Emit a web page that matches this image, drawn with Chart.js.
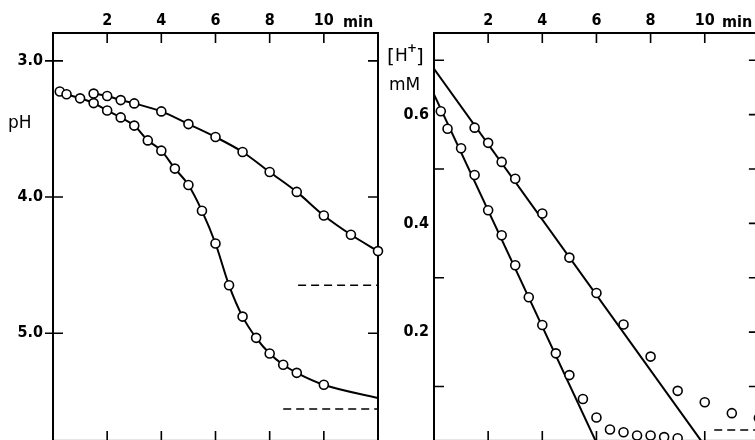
<!DOCTYPE html>
<html lang="en">
<head>
<meta charset="UTF-8">
<title>pH and [H+] against time</title>
<script src="https://cdn.jsdelivr.net/npm/chart.js"></script>
<style>
    body {
        margin: 0;
        width: 755px;
        height: 440px;
        overflow: hidden;
        background: #ffffff;
        position: relative;
    }
    .panel {
        position: absolute;
        top: 0;
    }
    #leftBox { left: 0; }
    #rightBox { left: 380px; }
</style>
</head>
<body>
<div class="panel" id="leftBox"><canvas id="phChart" width="400" height="447"></canvas></div>
<div class="panel" id="rightBox"><canvas id="hChart" width="385" height="447"></canvas></div>

<script>
    // time axis (min), shared by both panels
    const timeTicks = [2, 4, 6, 8, 10];

    // left panel: pH
    const phTicks = [3, 4, 5];
    const phFastT = [0.25, 0.5, 1, 1.5, 2, 2.5, 3, 3.5, 4, 4.5, 5, 5.5, 6, 6.5, 7, 7.5, 8, 8.5, 9, 10];
    const phFastV = [3.225, 3.245, 3.275, 3.31, 3.364, 3.415, 3.475, 3.584, 3.659, 3.791, 3.911, 4.101, 4.341, 4.648, 4.878, 5.034, 5.149, 5.232, 5.291, 5.379];
    const phFastTail = [12, 5.476];          // curve goes on past the last circle
    const phSlowT = [1.5, 2, 2.5, 3, 4, 5, 6, 7, 8, 9, 10, 11, 12];
    const phSlowV = [3.24, 3.258, 3.288, 3.312, 3.371, 3.464, 3.559, 3.669, 3.816, 3.962, 4.136, 4.277, 4.397];
    const phLimitSlow = [[9.05, 4.648], [12, 4.648]];
    const phLimitFast = [[8.5, 5.557], [12, 5.557]];

    // right panel: [H+] in mM
    const hLabelTicks = [0.2, 0.4, 0.6];
    const hMarkTicks = [0.1, 0.2, 0.3, 0.4, 0.5, 0.6, 0.7];
    const hFastT = [0.25, 0.5, 1, 1.5, 2, 2.5, 3, 3.5, 4, 4.5, 5, 5.5, 6, 6.5, 7, 7.5, 8, 8.5, 9];
    const hFastV = [0.606, 0.574, 0.538, 0.489, 0.424, 0.378, 0.323, 0.264, 0.213, 0.161, 0.121, 0.077, 0.043, 0.021, 0.016, 0.010, 0.010, 0.007, 0.005];
    const hSlowT = [1.5, 2, 2.5, 3, 4, 5, 6, 7, 8, 9, 10, 11, 12];
    const hSlowV = [0.576, 0.548, 0.513, 0.482, 0.418, 0.337, 0.272, 0.214, 0.155, 0.092, 0.071, 0.051, 0.042];
    const hFastFit = [[0, 0.637], [5.97, 0]];
    const hSlowFit = [[0, 0.684], [9.87, 0]];
    const hBaseline = [[10.35, 0.02], [12, 0.02]];

    const FAM = "'DejaVu Sans Condensed', 'DejaVu Sans', sans-serif";
    const tickFont = { family: FAM, size: 16, weight: 'bold' };

    const toPts = (xs, ys) => xs.map((x, i) => ({ x: x, y: ys[i] }));
    const pairPts = arr => arr.map(p => ({ x: p[0], y: p[1] }));

    // frame round the plot area plus the short inward tick marks
    const framePlugin = {
        id: 'frame',
        beforeDatasetsDraw(chart, args, opts) {
            const { ctx, chartArea: a, scales } = chart;
            ctx.save();
            ctx.strokeStyle = '#000';
            ctx.lineWidth = 2;
            ctx.strokeRect(a.left, a.top, a.right - a.left, a.bottom - a.top);
            ctx.lineWidth = 1.6;
            ctx.beginPath();
            opts.xMarks.forEach(v => {
                const px = scales.x.getPixelForValue(v);
                ctx.moveTo(px, a.top); ctx.lineTo(px, a.top + 10);
                ctx.moveTo(px, a.bottom); ctx.lineTo(px, a.bottom - 10);
            });
            opts.leftMarks.forEach(v => {
                const py = scales.y.getPixelForValue(v);
                ctx.moveTo(a.left - opts.outLen, py); ctx.lineTo(a.left + 10, py);
            });
            opts.rightMarks.forEach(v => {
                const py = scales.y.getPixelForValue(v);
                ctx.moveTo(a.right - 10, py); ctx.lineTo(a.right, py);
            });
            ctx.stroke();
            ctx.restore();
        }
    };

    const textPlugin = {
        id: 'extraText',
        afterDraw(chart, args, opts) {
            const ctx = chart.ctx;
            ctx.save();
            ctx.fillStyle = '#000';
            ctx.textBaseline = 'alphabetic';
            ctx.textAlign = 'left';
            opts.items.forEach(it => {
                ctx.font = it.font;
                ctx.fillText(it.text, it.x, it.y);
            });
            ctx.restore();
        }
    };

    const lineSet = (pts, extra) => Object.assign({
        data: pts, showLine: true, pointRadius: 0, borderColor: '#000',
        borderWidth: 2, order: 2
    }, extra);

    const circleSet = pts => ({
        data: pts, showLine: false, pointRadius: 4.5, pointBorderWidth: 1.6,
        pointBorderColor: '#000', pointBackgroundColor: '#fff', order: 0, clip: false
    });

    function baseOptions(cfg) {
        return {
            responsive: false,
            animation: false,
            layout: { padding: cfg.padding },
            plugins: {
                legend: { display: false },
                tooltip: { enabled: false },
                frame: cfg.frame,
                extraText: { items: cfg.texts }
            },
            scales: {
                x: {
                    type: 'linear', position: 'top', min: 0, max: 12,
                    afterBuildTicks: s => { s.ticks = timeTicks.map(v => ({ value: v })); },
                    afterFit: s => { s.height = 33; s.paddingLeft = 0; s.paddingRight = 0; },
                    grid: { display: false, drawTicks: false },
                    border: { display: false },
                    ticks: { padding: 3, font: tickFont, color: '#000', callback: v => String(v) }
                },
                y: {
                    type: 'linear', position: 'left',
                    min: cfg.yMin, max: cfg.yMax, reverse: cfg.reverse,
                    afterBuildTicks: s => { s.ticks = cfg.yLabels.map(v => ({ value: v })); },
                    afterFit: s => { s.width = cfg.yWidth; s.paddingTop = 0; s.paddingBottom = 0; },
                    grid: { display: false, drawTicks: false },
                    border: { display: false },
                    ticks: { padding: cfg.yPad, font: tickFont, color: '#000', callback: v => v.toFixed(1) }
                }
            }
        };
    }

    new Chart(document.getElementById('phChart'), {
        type: 'scatter',
        data: {
            datasets: [
                lineSet(toPts(phFastT, phFastV).concat([{ x: phFastTail[0], y: phFastTail[1] }]), { cubicInterpolationMode: 'monotone', tension: 0.4 }),
                lineSet(toPts(phSlowT, phSlowV), { cubicInterpolationMode: 'monotone', tension: 0.4 }),
                lineSet(pairPts(phLimitSlow), { borderWidth: 1.6, borderDash: [8, 5] }),
                lineSet(pairPts(phLimitFast), { borderWidth: 1.6, borderDash: [8, 5] }),
                circleSet(toPts(phFastT, phFastV)),
                circleSet(toPts(phSlowT, phSlowV))
            ]
        },
        options: baseOptions({
            padding: { left: 0, top: 0, right: 22, bottom: 5 },
            yMin: 2.795, yMax: 5.791, reverse: true,
            yLabels: phTicks, yWidth: 53, yPad: 10,
            frame: { xMarks: timeTicks, leftMarks: phTicks, rightMarks: phTicks, outLen: 8 },
            texts: [
                { text: 'min', x: 343, y: 27, font: "bold 16px " + FAM },
                { text: 'pH', x: 8, y: 128, font: "17px 'DejaVu Sans', sans-serif" }
            ]
        }),
        plugins: [framePlugin, textPlugin]
    });

    new Chart(document.getElementById('hChart'), {
        type: 'scatter',
        data: {
            datasets: [
                lineSet(pairPts(hFastFit)),
                lineSet(pairPts(hSlowFit)),
                lineSet(pairPts(hBaseline), { borderWidth: 1.6, borderDash: [8, 5] }),
                circleSet(toPts(hFastT, hFastV)),
                circleSet(toPts(hSlowT, hSlowV))
            ]
        },
        options: baseOptions({
            padding: { left: 0, top: 0, right: 6, bottom: 5 },
            yMin: 0, yMax: 0.75, reverse: false,
            yLabels: hLabelTicks, yWidth: 54, yPad: 5,
            frame: { xMarks: timeTicks, leftMarks: [0.1, 0.3, 0.5, 0.7], rightMarks: hMarkTicks, outLen: 0 },
            texts: [
                { text: 'min', x: 342, y: 27, font: "bold 16px " + FAM },
                { text: '[', x: 7, y: 63, font: "20px 'DejaVu Sans', sans-serif" },
                { text: 'H', x: 15, y: 61, font: "17px 'DejaVu Sans', sans-serif" },
                { text: '+', x: 27, y: 52, font: "bold 12px 'DejaVu Sans', sans-serif" },
                { text: ']', x: 36, y: 63, font: "20px 'DejaVu Sans', sans-serif" },
                { text: 'mM', x: 9, y: 90, font: "17px 'DejaVu Sans', sans-serif" }
            ]
        }),
        plugins: [framePlugin, textPlugin]
    });
</script>
</body>
</html>
